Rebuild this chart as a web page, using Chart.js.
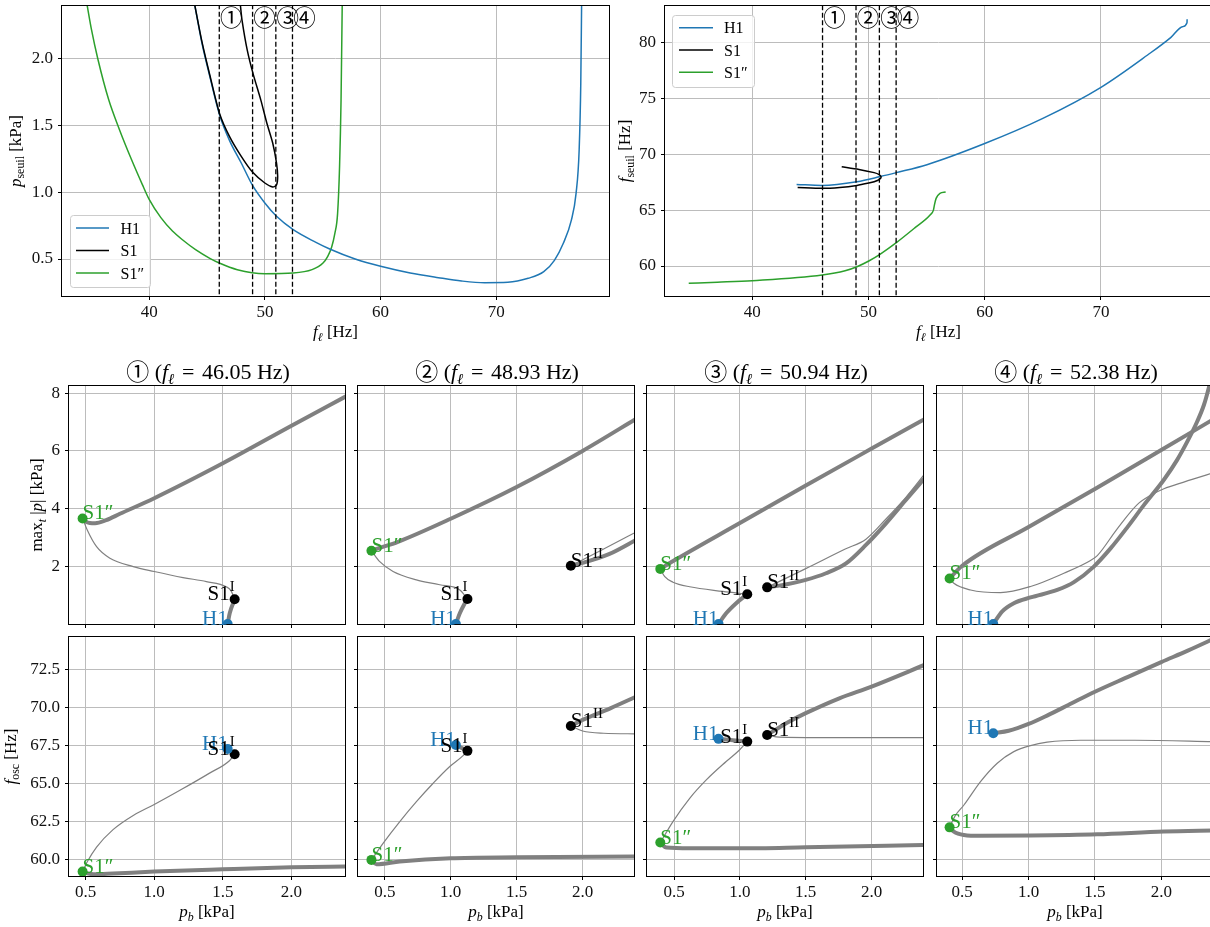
<!DOCTYPE html>
<html lang="fr">
<head>
<meta charset="utf-8">
<title>Seuils et diagrammes de bifurcation</title>
<script src="https://cdn.jsdelivr.net/npm/chart.js@4.4.1/dist/chart.umd.min.js"></script>
<style>
html,body{margin:0;padding:0;background:#ffffff;width:1210px;height:927px;overflow:hidden;position:relative;}
canvas{position:absolute;display:block;}
</style>
</head>
<body>
<script>
// ================= tick values / labels =================
const FL_TICKS = [40, 50, 60, 70];
const FL_TICK_LABELS = ['40', '50', '60', '70'];
const PSEUIL_TICKS = [0.5, 1.0, 1.5, 2.0];
const PSEUIL_TICK_LABELS = ['0.5', '1.0', '1.5', '2.0'];
const FSEUIL_TICKS = [60, 65, 70, 75, 80];
const FSEUIL_TICK_LABELS = ['60', '65', '70', '75', '80'];
const PB_TICKS = [0.5, 1.0, 1.5, 2.0];
const PB_TICK_LABELS = ['0.5', '1.0', '1.5', '2.0'];
const AMP_TICKS = [2, 4, 6, 8];
const AMP_TICK_LABELS = ['2', '4', '6', '8'];
const FOSC_TICKS = [60, 62.5, 65, 67.5, 70, 72.5];
const FOSC_TICK_LABELS = ['60.0', '62.5', '65.0', '67.5', '70.0', '72.5'];

// axis limits
const FL_RANGE_L = [32.45, 79.75];
const FL_RANGE_R = [32.5, 79.55];
const PSEUIL_RANGE = [0.2225, 2.3975];
const FSEUIL_RANGE = [57.32, 83.25];
const AMP_RANGE = [0, 8.25];
const FOSC_RANGE = [58.9, 74.62];
const PB_MIN = [0.379, 0.297, 0.295, 0.31];
const PB_MAX = 2.39;

// ================= cut frequencies =================
const CUT_LABELS = ['①', '②', '③', '④'];
const CUT_FL = [46.05, 48.93, 50.94, 52.38];
const CUT_FL_TEXT = ['46.05', '48.93', '50.94', '52.38'];
const SERIES_NAMES = ['H1', 'S1', 'S1″'];

// ================= top-left : p_seuil(f_l) =================
const TL_H1_FL = [43.94,44.55,45.23,46.08,46.93,47.95,48.94,49.99,51.0,52.44,54.41,55.6,57.8,60.0,62.56,65.0,67.0,69.0,71.0,72.76,74.11,75.03,75.81,76.49,76.9,77.17,77.31,77.38];
const TL_H1_PS = [2.40,2.12,1.87,1.58,1.39,1.22,1.05,0.92,0.82,0.72,0.625,0.575,0.50,0.445,0.395,0.36,0.335,0.322,0.325,0.355,0.405,0.49,0.62,0.79,0.99,1.32,1.82,2.40];
const TL_S1_FL = [43.94,44.55,45.23,46.08,46.93,47.95,48.94,49.99,50.67,51.0,51.1,51.0,50.67,50.16,49.65,48.97,48.46,48.02,47.88];
const TL_S1_PS = [2.40,2.13,1.88,1.59,1.42,1.27,1.15,1.07,1.04,1.055,1.12,1.22,1.37,1.52,1.69,1.89,2.07,2.29,2.40];
const TL_S1PP_FL = [34.63,35.0,35.55,36.47,37.42,38.44,39.39,40.0,41.0,42.0,43.0,44.0,45.23,46.05,47.61,49.99,52.44,54.07,55.02,55.43,55.77,56.04,56.28,56.45,56.58,56.68];
const TL_S1PP_PS = [2.40,2.22,2.0,1.70,1.47,1.25,1.06,0.945,0.81,0.71,0.635,0.57,0.505,0.47,0.42,0.39,0.395,0.42,0.47,0.52,0.59,0.69,0.84,1.19,1.69,2.40];

// ================= top-right : f_seuil(f_l) =================
const TR_H1_FL = [43.82,46.02,49.01,51.02,52.4,55.03,60.0,65.0,70.0,74.01,76.02,77.01,77.4,77.41];
const TR_H1_FS = [67.3,67.21,67.54,68.0,68.35,69.06,70.95,73.2,75.98,78.87,80.45,81.4,81.76,82.06];
const TR_S1_FL = [47.7,49.18,50.49,50.92,51.09,50.95,50.49,50.03,49.01,47.53,46.02,43.91];
const TR_S1_FS = [68.88,68.64,68.35,68.17,67.96,67.75,67.54,67.42,67.21,67.03,66.95,67.03];
const TR_S1PP_FL = [34.54,37.0,40.0,46.02,47.99,49.01,50.03,51.02,52.4,54.01,55.3,55.59,55.69,55.82,56.15,56.64];
const TR_S1PP_FS = [58.45,58.55,58.69,59.2,59.58,59.94,60.45,61.07,62.09,63.43,64.56,65.0,65.54,66.05,66.5,66.62];

// ================= bottom panels : column 1 (46.05 Hz) =================
const c1_up_pb = [0.478,0.50,0.53,0.57,0.65,0.75,1.0,1.5,2.0,2.42];
const c1_up_amp = [3.66,3.56,3.50,3.49,3.60,3.82,4.36,5.57,6.87,7.95];
const c1_un_pb = [0.478,0.512,0.58,0.677,0.847,1.0,1.21,1.38,1.525,1.56,1.586];
const c1_un_amp = [3.66,3.26,2.68,2.28,1.99,1.82,1.61,1.47,1.29,1.15,0.856];
const c1_h1_pb = [1.535,1.55,1.586];
const c1_h1_amp = [0,0.37,0.856];
const c1_lo_pb = [0.478,0.52,0.56,0.7,1.0,1.5,2.0,2.42];
const c1_lo_fosc = [59.19,59.06,59.01,59.06,59.19,59.34,59.47,59.53];
const c1_unf_pb = [0.478,0.51,0.58,0.70,0.85,1.0,1.2,1.4,1.55,1.586];
const c1_unf_fosc = [59.19,59.8,60.8,61.95,62.9,63.6,64.6,65.65,66.5,66.91];
const c1_h1f_pb = [1.535,1.586];
const c1_h1f_fosc = [67.26,66.91];

// ================= column 2 (48.93 Hz) =================
const c2_up_pb = [0.399,0.45,0.6,1.0,1.5,2.0,2.42];
const c2_up_amp = [2.54,2.62,2.85,3.65,4.75,6.0,7.15];
const c2_un_pb = [0.399,0.462,0.563,0.74,0.917,1.069,1.127];
const c2_un_amp = [2.54,2.16,1.82,1.53,1.36,1.18,0.867];
const c2_h1_pb = [1.039,1.069,1.107,1.127];
const c2_h1_amp = [0,0.37,0.72,0.867];
const c2_s2_pb = [1.911,2.0,2.2,2.42];
const c2_s2_amp = [2.02,2.12,2.42,2.95];
const c2_s2u_pb = [1.911,2.16,2.42];
const c2_s2u_amp = [2.02,2.6,3.22];
const c2_lo_pb = [0.399,0.437,0.614,1.0,1.5,2.42];
const c2_lo_fosc = [59.96,59.67,59.85,60.07,60.13,60.18];
const c2_unf_pb = [0.399,0.487,0.614,0.74,0.867,0.993,1.094,1.127];
const c2_unf_fosc = [59.96,61.05,62.48,63.79,65.0,66.1,66.82,67.13];
const c2_h1f_pb = [1.039,1.127];
const c2_h1f_fosc = [67.52,67.13];
const c2_s2f_pb = [1.911,2.0,2.21,2.42];
const c2_s2f_fosc = [68.77,69.17,69.93,70.75];
const c2_s2uf_pb = [1.911,2.0,2.16,2.42];
const c2_s2uf_fosc = [68.77,68.44,68.29,68.25];

// ================= column 3 (50.94 Hz) =================
const c3_up_pb = [0.396,0.5,1.0,1.5,2.0,2.42];
const c3_up_amp = [1.91,2.2,3.5,4.8,6.08,7.15];
const c3_un_pb = [0.396,0.43,0.492,0.619,0.871,1.056];
const c3_un_amp = [1.91,1.64,1.45,1.29,1.13,1.03];
const c3_h1_pb = [0.838,0.896,0.972,1.056];
const c3_h1_amp = [0,0.37,0.72,1.03];
const c3_s2_pb = [1.207,1.30,1.5,1.654,1.806,1.957,2.109,2.26,2.42];
const c3_s2_amp = [1.27,1.33,1.53,1.76,2.10,2.74,3.49,4.30,5.15];
const c3_s2u_pb = [1.207,1.5,1.8,1.957,2.109,2.26,2.42];
const c3_s2u_amp = [1.27,1.92,2.6,2.94,3.64,4.39,5.3];
const c3_lo_pb = [0.396,0.442,0.619,1.0,1.5,2.42];
const c3_lo_fosc = [61.10,60.77,60.72,60.72,60.79,60.95];
const c3_unf_pb = [0.396,0.492,0.619,0.745,0.896,0.997,1.056];
const c3_unf_fosc = [61.10,62.48,64.01,65.22,66.43,67.19,67.74];
const c3_h1f_pb = [0.838,1.056];
const c3_h1f_fosc = [67.92,67.74];
const c3_s2f_pb = [1.207,1.376,1.5,1.755,2.0,2.42];
const c3_s2f_fosc = [68.18,69.06,69.61,70.59,71.36,72.85];
const c3_s2uf_pb = [1.207,1.3,1.6,2.42];
const c3_s2uf_fosc = [68.18,68.03,68.0,68.0];

// ================= column 4 (52.38 Hz) =================
const c4_up_pb = [0.405,0.5,1.0,1.5,2.0,2.42];
const c4_up_amp = [1.58,2.02,3.36,4.68,6.03,7.17];
const c4_un_pb = [0.405,0.437,0.563,0.789,1.015,1.266,1.467,1.518,1.668,1.819,1.919,2.02,2.17,2.42];
const c4_un_amp = [1.58,1.41,1.18,1.09,1.30,1.76,2.2,2.37,3.3,4.14,4.46,4.69,4.92,5.28];
const c4_h1_pb = [0.734,0.80,0.889,1.015,1.216,1.342,1.492,1.618,1.744,1.869,2.02,2.12,2.196,2.271,2.322,2.359,2.39];
const c4_h1_amp = [0,0.43,0.72,0.92,1.18,1.45,1.99,2.62,3.35,4.12,5.0,5.69,6.32,7.02,7.6,8.2,8.8];
const c4_lo_pb = [0.405,0.437,0.513,0.638,1.015,1.518,2.02,2.42];
const c4_lo_fosc = [62.10,61.82,61.6,61.54,61.56,61.64,61.82,61.89];
const c4_unf_pb = [0.405,0.45,0.513,0.638,0.764,0.889,1.015,1.14,1.392,1.8,2.42];
const c4_unf_fosc = [62.10,62.9,63.57,65.11,66.32,67.08,67.48,67.7,67.83,67.83,67.74];
const c4_h1f_pb = [0.734,0.85,1.0,1.15,1.3,1.5,1.75,2.0,2.2,2.42];
const c4_h1f_fosc = [68.29,68.45,68.9,69.5,70.15,71.02,72.0,72.97,73.72,74.6];

// ================= special points (per column) =================
const PT_H1_PB = [1.535, 1.039, 0.838, 0.734];
const PT_H1_AMP = [0, 0, 0, 0];
const PT_H1_FOSC = [67.26, 67.52, 67.92, 68.29];
const PT_S1PP_PB = [0.478, 0.399, 0.396, 0.405];
const PT_S1PP_AMP = [3.66, 2.54, 1.91, 1.58];
const PT_S1PP_FOSC = [59.19, 59.96, 61.10, 62.10];
const PT_S1I_PB = [1.586, 1.127, 1.056, null];
const PT_S1I_AMP = [0.856, 0.867, 1.03, null];
const PT_S1I_FOSC = [66.91, 67.13, 67.74, null];
const PT_S1II_PB = [null, 1.911, 1.207, null];
const PT_S1II_AMP = [null, 2.02, 1.27, null];
const PT_S1II_FOSC = [null, 68.77, 68.18, null];

// ================= styles =================
const FF = '"Liberation Serif","DejaVu Serif",serif';
const CF = '"Noto Sans CJK JP","Noto Sans CJK SC","DejaVu Sans",sans-serif';
const BLUE = '#1f77b4', GREEN = '#2ca02c', BLACK = '#000000', GRAY = '#808080';
const GRID = '#bcbcbc';
const THICK = 4, THIN = 1.2;
const TICK_SIZE = 17, LABEL_SIZE = 17;

// ================= helpers =================
function segFont(s, size) {
  let sz = s.size || size;
  if (s.sub || s.sup) sz *= 0.7;
  return (s.it ? 'italic ' : '') + sz.toFixed(2) + 'px ' + (s.ff || FF);
}
function drawRich(ctx, segs, x, y, size, color, align, rot) {
  ctx.save();
  ctx.translate(x, y);
  if (rot) ctx.rotate(rot);
  ctx.textAlign = 'left';
  ctx.textBaseline = 'alphabetic';
  ctx.fillStyle = color;
  let w = 0;
  for (const s of segs) { ctx.font = segFont(s, size); w += ctx.measureText(s.t).width + (s.gap || 0); }
  let cx = align === 'center' ? -w / 2 : (align === 'right' ? -w : 0);
  for (const s of segs) {
    ctx.font = segFont(s, size);
    const dy = s.sub ? size * 0.22 : (s.sup ? -size * 0.42 : (s.dy || 0));
    ctx.fillText(s.t, cx, dy);
    cx += ctx.measureText(s.t).width + (s.gap || 0);
  }
  ctx.restore();
}
function pts(xs, ys) { return xs.map((x, i) => ({ x: x, y: ys[i] })); }
function lineDS(xs, ys, color, width, opts) {
  return Object.assign({
    type: 'scatter', data: pts(xs, ys), showLine: true,
    borderColor: color, backgroundColor: color, borderWidth: width,
    pointRadius: 0, pointHoverRadius: 0, pointHitRadius: 0,
    cubicInterpolationMode: 'monotone', tension: 0.4, fill: false, clip: 0, order: 2,
    borderCapStyle: 'butt', borderJoinStyle: 'round'
  }, opts || {});
}
function markerDS(x, y, color) {
  return {
    type: 'scatter', data: [{ x: x, y: y }], showLine: false,
    pointRadius: 5, pointHoverRadius: 5, pointBackgroundColor: color,
    pointBorderColor: color, pointBorderWidth: 0, clip: 0, order: 0
  };
}
function drawLegend(ctx, lg, ox, oy) {
  ctx.save();
  const x = lg.x - ox, y = lg.y - oy;
  ctx.beginPath();
  if (ctx.roundRect) ctx.roundRect(x + 0.5, y + 0.5, lg.w, lg.h, 3);
  else ctx.rect(x + 0.5, y + 0.5, lg.w, lg.h);
  ctx.fillStyle = 'rgba(255,255,255,0.8)';
  ctx.fill();
  ctx.strokeStyle = '#cccccc';
  ctx.lineWidth = 1;
  ctx.stroke();
  lg.items.forEach((it, i) => {
    const ry = y + lg.row0 + i * lg.dy;
    ctx.strokeStyle = it.color;
    ctx.lineWidth = 1.5;
    ctx.beginPath();
    ctx.moveTo(x + lg.lx0, ry);
    ctx.lineTo(x + lg.lx1, ry);
    ctx.stroke();
    drawRich(ctx, [{ t: it.name }], x + lg.tx, ry + 5.5, 16, '#000', 'left', 0);
  });
  ctx.restore();
}
function decoPlugin(spec) {
  return {
    id: 'deco',
    afterDraw(chart) {
      const ctx = chart.ctx, ca = chart.chartArea;
      const ox = spec.box.x, oy = spec.box.y;
      ctx.save();
      ctx.strokeStyle = '#000';
      ctx.lineWidth = 1;
      ctx.strokeRect(Math.round(ca.left) - 0.5, Math.round(ca.top) - 0.5,
        Math.round(ca.right - ca.left) + 1, Math.round(ca.bottom - ca.top) + 1);
      ctx.restore();
      (spec.notes || []).forEach(a => {
        const px = chart.scales.x.getPixelForValue(a.x);
        const py = a.y === 'top' ? ca.top : chart.scales.y.getPixelForValue(a.y);
        drawRich(ctx, a.segs, px + (a.dx || 0), py + (a.dy || 0), a.size, a.color, a.align, 0);
      });
      (spec.texts || []).forEach(t => {
        drawRich(ctx, t.segs, t.x - ox, t.y - oy, t.size, t.color || '#000', t.align || 'center', t.rot || 0);
      });
      if (spec.legend) drawLegend(ctx, spec.legend, ox, oy);
    }
  };
}
function makeChart(spec) {
  const cv = document.createElement('canvas');
  cv.width = spec.box.w; cv.height = spec.box.h;
  cv.style.left = spec.box.x + 'px'; cv.style.top = spec.box.y + 'px';
  cv.style.width = spec.box.w + 'px'; cv.style.height = spec.box.h + 'px';
  document.body.appendChild(cv);
  const A = spec.area;
  const yW = A.L - spec.box.x;
  const xH = spec.box.y + spec.box.h - A.B;
  const padTop = A.T - spec.box.y;
  const padRight = spec.box.x + spec.box.w - A.R;
  const tickFont = { family: FF, size: TICK_SIZE };
  const gridOpts = { display: true, color: GRID, lineWidth: 1, drawTicks: true, tickLength: 4, tickColor: '#000', tickWidth: 1, drawOnChartArea: true };
  return new Chart(cv, {
    type: 'scatter',
    data: { datasets: spec.datasets },
    options: {
      responsive: false, animation: false, devicePixelRatio: 1, events: [],
      layout: { padding: { left: 0, top: padTop, right: padRight, bottom: 0 } },
      plugins: { legend: { display: false }, tooltip: { enabled: false }, title: { display: false } },
      scales: {
        x: {
          type: 'linear', position: 'bottom', min: spec.xr[0], max: spec.xr[1],
          afterBuildTicks: s => { s.ticks = spec.xt.map(v => ({ value: v })); },
          afterFit: s => { s.height = xH; s.paddingLeft = 0; s.paddingRight = 0; s.paddingTop = 0; s.paddingBottom = 0; },
          ticks: { display: spec.showX, autoSkip: false, maxRotation: 0, minRotation: 0, padding: 2, color: '#111', font: tickFont, callback: (v, i) => spec.xl[i] },
          grid: gridOpts, border: { display: false }
        },
        y: {
          type: 'linear', position: 'left', min: spec.yr[0], max: spec.yr[1],
          afterBuildTicks: s => { s.ticks = spec.yt.map(v => ({ value: v })); },
          afterFit: s => { s.width = yW; s.paddingLeft = 0; s.paddingRight = 0; s.paddingTop = 0; s.paddingBottom = 0; },
          ticks: { display: spec.showY, autoSkip: false, padding: 5, color: '#111', font: tickFont, callback: (v, i) => spec.yl[i] },
          grid: gridOpts, border: { display: false }
        }
      }
    },
    plugins: [decoPlugin(spec)]
  });
}
function cutLines(yr) {
  return CUT_FL.map(f => lineDS([f, f], [yr[0] - 10, yr[1] + 10], BLACK, 1.3, { borderDash: [5, 2.5], cubicInterpolationMode: 'default', tension: 0, order: 0 }));
}
function cutNotes() {
  return CUT_LABELS.map((c, i) => ({ x: CUT_FL[i], y: 'top', dx: 12, dy: 19.5, segs: [{ t: c, ff: CF }], size: 22.5, color: BLACK, align: 'center' }));
}
const LEGEND_ITEMS = SERIES_NAMES.map((n, i) => ({ name: n, color: [BLUE, BLACK, GREEN][i] }));
const LOOP = { cubicInterpolationMode: 'default', tension: 0.25 };

// ================= top-left =================
makeChart({
  box: { x: 0, y: 0, w: 616, h: 346 }, area: { L: 62, T: 6, R: 609, B: 296 },
  xr: FL_RANGE_L, yr: PSEUIL_RANGE,
  xt: FL_TICKS, xl: FL_TICK_LABELS, yt: PSEUIL_TICKS, yl: PSEUIL_TICK_LABELS, showX: true, showY: true,
  datasets: [].concat(cutLines(PSEUIL_RANGE), [
    lineDS(TL_S1_FL, TL_S1_PS, BLACK, 1.5, Object.assign({ order: 1 }, LOOP)),
    lineDS(TL_H1_FL, TL_H1_PS, BLUE, 1.5, { order: 2 }),
    lineDS(TL_S1PP_FL, TL_S1PP_PS, GREEN, 1.5, { order: 3 })
  ]),
  notes: cutNotes(),
  texts: [
    { segs: [{ t: 'f', it: true }, { t: 'ℓ', sub: true, it: true }, { t: ' [Hz]' }], x: 335.5, y: 337, size: LABEL_SIZE },
    { segs: [{ t: 'p', it: true }, { t: 'seuil', sub: true }, { t: ' [kPa]' }], x: 20.5, y: 151, size: LABEL_SIZE, rot: -Math.PI / 2 }
  ],
  legend: { x: 70, y: 215, w: 80, h: 72, row0: 13, dy: 22.5, lx0: 6, lx1: 39, tx: 50.5, items: LEGEND_ITEMS }
});

// ================= top-right =================
makeChart({
  box: { x: 616, y: 0, w: 600, h: 346 }, area: { L: 665, T: 6, R: 1212, B: 296 },
  xr: FL_RANGE_R, yr: FSEUIL_RANGE,
  xt: FL_TICKS, xl: FL_TICK_LABELS, yt: FSEUIL_TICKS, yl: FSEUIL_TICK_LABELS, showX: true, showY: true,
  datasets: [].concat(cutLines(FSEUIL_RANGE), [
    lineDS(TR_S1_FL, TR_S1_FS, BLACK, 1.5, Object.assign({ order: 1 }, LOOP)),
    lineDS(TR_H1_FL, TR_H1_FS, BLUE, 1.5, { order: 2 }),
    lineDS(TR_S1PP_FL, TR_S1PP_FS, GREEN, 1.5, { order: 3 })
  ]),
  notes: cutNotes(),
  texts: [
    { segs: [{ t: 'f', it: true }, { t: 'ℓ', sub: true, it: true }, { t: ' [Hz]' }], x: 938.5, y: 337, size: LABEL_SIZE },
    { segs: [{ t: 'f', it: true }, { t: 'seuil', sub: true }, { t: ' [Hz]' }], x: 630, y: 151, size: LABEL_SIZE, rot: -Math.PI / 2 }
  ],
  legend: { x: 672, y: 15, w: 82, h: 72, row0: 12.7, dy: 22.3, lx0: 7, lx1: 41, tx: 52, items: LEGEND_ITEMS }
});

// ================= bottom panels =================
const PANELS = [
  { amp: [[c1_up_pb, c1_up_amp, THICK], [c1_un_pb, c1_un_amp, THIN], [c1_h1_pb, c1_h1_amp, THICK]],
    fosc: [[c1_lo_pb, c1_lo_fosc, THICK], [c1_unf_pb, c1_unf_fosc, THIN], [c1_h1f_pb, c1_h1f_fosc, THICK]] },
  { amp: [[c2_up_pb, c2_up_amp, THICK], [c2_un_pb, c2_un_amp, THIN], [c2_h1_pb, c2_h1_amp, THICK], [c2_s2_pb, c2_s2_amp, THICK], [c2_s2u_pb, c2_s2u_amp, THIN]],
    fosc: [[c2_lo_pb, c2_lo_fosc, THICK], [c2_unf_pb, c2_unf_fosc, THIN], [c2_h1f_pb, c2_h1f_fosc, THICK], [c2_s2f_pb, c2_s2f_fosc, THICK], [c2_s2uf_pb, c2_s2uf_fosc, THIN]] },
  { amp: [[c3_up_pb, c3_up_amp, THICK], [c3_un_pb, c3_un_amp, THIN], [c3_h1_pb, c3_h1_amp, THICK], [c3_s2_pb, c3_s2_amp, THICK], [c3_s2u_pb, c3_s2u_amp, THIN]],
    fosc: [[c3_lo_pb, c3_lo_fosc, THICK], [c3_unf_pb, c3_unf_fosc, THIN], [c3_h1f_pb, c3_h1f_fosc, THICK], [c3_s2f_pb, c3_s2f_fosc, THICK], [c3_s2uf_pb, c3_s2uf_fosc, THIN]] },
  { amp: [[c4_up_pb, c4_up_amp, THICK], [c4_un_pb, c4_un_amp, THIN], [c4_h1_pb, c4_h1_amp, THICK]],
    fosc: [[c4_lo_pb, c4_lo_fosc, THICK], [c4_unf_pb, c4_unf_fosc, THIN], [c4_h1f_pb, c4_h1f_fosc, THICK]] }
];
const MARKERS = [
  { segs: [{ t: 'H1' }], color: BLUE, pb: PT_H1_PB, amp: PT_H1_AMP, fosc: PT_H1_FOSC, align: 'right' },
  { segs: [{ t: 'S1″' }], color: GREEN, pb: PT_S1PP_PB, amp: PT_S1PP_AMP, fosc: PT_S1PP_FOSC, align: 'left' },
  { segs: [{ t: 'S1' }, { t: 'I', sup: true }], color: BLACK, pb: PT_S1I_PB, amp: PT_S1I_AMP, fosc: PT_S1I_FOSC, align: 'right' },
  { segs: [{ t: 'S1' }, { t: 'II', sup: true }], color: BLACK, pb: PT_S1II_PB, amp: PT_S1II_AMP, fosc: PT_S1II_FOSC, align: 'left' }
];
const COL_L = [69, 358, 647, 937];
const COL_W = 276;
const COL_BOX = [[0, 352], [352, 289], [641, 289], [930, 290]];

for (let c = 0; c < 4; c++) {
  const P = PANELS[c];
  const L = COL_L[c], R = L + COL_W, cx = (L + R) / 2;
  const xr = [PB_MIN[c], PB_MAX];
  ['amp', 'fosc'].forEach((key, r) => {
    const ds = [];
    MARKERS.forEach(m => { if (m.pb[c] != null) ds.push(markerDS(m.pb[c], m[key][c], m.color)); });
    P[key].forEach(([xs, ys, w]) => ds.push(lineDS(xs, ys, GRAY, w, { order: w === THIN ? 1 : 2 })));
    const notes = MARKERS.filter(m => m.pb[c] != null).map(m => ({
      x: m.pb[c], y: m[key][c], segs: m.segs, size: 21, color: m.color, align: m.align, dx: 0, dy: 1
    }));
    const texts = [];
    if (r === 0) {
      texts.push({ segs: [{ t: CUT_LABELS[c], ff: CF, size: 23, dy: 1 }, { t: ' (' }, { t: 'f', it: true }, { t: 'ℓ', sub: true, it: true, gap: 2 }, { t: ' = ', gap: 2 }, { t: CUT_FL_TEXT[c] + ' Hz)' }], x: cx + 1, y: 379, size: 22 });
      if (c === 0) texts.push({ segs: [{ t: 'max' }, { t: 't', sub: true, it: true }, { t: ' |' }, { t: 'p', it: true }, { t: '| [kPa]' }], x: 42, y: 505, size: LABEL_SIZE, rot: -Math.PI / 2 });
    } else {
      texts.push({ segs: [{ t: 'p', it: true }, { t: 'b', sub: true, it: true }, { t: ' [kPa]' }], x: cx, y: 917, size: LABEL_SIZE });
      if (c === 0) texts.push({ segs: [{ t: 'f', it: true }, { t: 'osc', sub: true }, { t: ' [Hz]' }], x: 15.5, y: 756.5, size: LABEL_SIZE, rot: -Math.PI / 2 });
    }
    const box = r === 0 ? { x: COL_BOX[c][0], y: 350, w: COL_BOX[c][1], h: 281 } : { x: COL_BOX[c][0], y: 631, w: COL_BOX[c][1], h: 296 };
    const area = r === 0 ? { L: L, T: 386, R: R, B: 624 } : { L: L, T: 637, R: R, B: 876 };
    makeChart({
      box: box, area: area, xr: xr, yr: r === 0 ? AMP_RANGE : FOSC_RANGE,
      xt: PB_TICKS, xl: PB_TICK_LABELS,
      yt: r === 0 ? AMP_TICKS : FOSC_TICKS, yl: r === 0 ? AMP_TICK_LABELS : FOSC_TICK_LABELS,
      showX: r === 1, showY: c === 0,
      datasets: ds, notes: notes, texts: texts
    });
  });
}
</script>
</body>
</html>
